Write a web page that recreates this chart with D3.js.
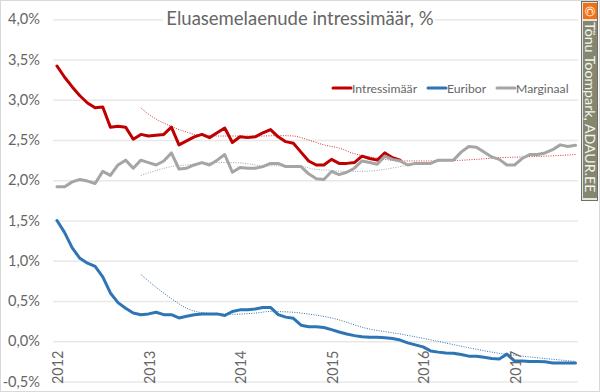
<!DOCTYPE html>
<html>
<head>
<meta charset="utf-8">
<script src="https://cdn.jsdelivr.net/npm/d3@7"></script>
<style>
  html, body { margin: 0; padding: 0; background: #fff; }
  svg { display: block; font-family: Lato, "Open Sans", sans-serif; }
</style>
</head>
<body>
<div id="chart"></div>
<script>
// monthly values, index 0 = jan 2012
var intress = [3.42,3.28,3.16,3.05,2.96,2.90,2.91,2.66,2.67,2.66,2.51,2.57,2.55,2.56,2.57,2.66,2.44,2.49,2.54,2.57,2.53,2.59,2.65,2.47,2.54,2.53,2.54,2.59,2.63,2.54,2.48,2.46,2.35,2.24,2.19,2.19,2.26,2.21,2.21,2.22,2.30,2.27,2.25,2.34,2.28,2.25];
var euribor = [1.50,1.35,1.16,1.03,0.97,0.93,0.80,0.60,0.48,0.41,0.35,0.33,0.34,0.36,0.33,0.33,0.29,0.31,0.33,0.34,0.34,0.34,0.32,0.37,0.39,0.39,0.40,0.42,0.42,0.33,0.30,0.285,0.20,0.18,0.18,0.17,0.145,0.115,0.09,0.07,0.055,0.05,0.05,0.045,0.035,0.015,-0.02,-0.045,-0.07,-0.12,-0.135,-0.145,-0.15,-0.165,-0.185,-0.185,-0.20,-0.215,-0.22,-0.16,-0.245,-0.245,-0.25,-0.25,-0.255,-0.27,-0.27,-0.27,-0.27];
var marginaal = [1.92,1.92,1.98,2.01,1.99,1.96,2.11,2.06,2.19,2.25,2.15,2.25,2.22,2.19,2.24,2.34,2.14,2.15,2.19,2.22,2.19,2.25,2.32,2.10,2.16,2.15,2.15,2.17,2.21,2.21,2.17,2.17,2.17,2.08,2.02,2.01,2.11,2.07,2.10,2.15,2.24,2.22,2.20,2.30,2.26,2.24,2.19,2.21,2.21,2.21,2.25,2.25,2.25,2.35,2.42,2.41,2.35,2.29,2.26,2.19,2.19,2.27,2.32,2.32,2.34,2.38,2.44,2.42,2.435];

// dotted trend lines, read at these months
var trendIntressM = [11,12,13,14,15,16,17,18,19,21,24,27,29,31,33,35,37,39,41,43,45,47,49,52,55,58,61,64,68];
var trendIntress = [2.90,2.82,2.76,2.71,2.67,2.63,2.60,2.57,2.565,2.55,2.55,2.55,2.555,2.55,2.50,2.44,2.40,2.33,2.29,2.26,2.24,2.24,2.24,2.245,2.26,2.28,2.29,2.30,2.32];
var trendEuriborM = [11,13,15,17,19,21,23,26,28,31,32,36.2,40.6,45,49.4,53.7,58,62.5,68];
var trendEuribor = [0.83,0.67,0.53,0.41,0.355,0.34,0.335,0.35,0.37,0.36,0.35,0.285,0.16,0.09,0.01,-0.075,-0.15,-0.20,-0.25];
var trendMargM = [11,13,15,17,19,21,23,25,27,29,31.9,33.6,35.8,38,41,43.2,45,46.7];
var trendMarg = [2.06,2.12,2.17,2.19,2.21,2.22,2.22,2.205,2.18,2.18,2.175,2.14,2.125,2.11,2.115,2.14,2.17,2.2];

var yearMonths = [0,12,24,36,48,60];
var yearLabels = ["2012","2013","2014","2015","2016","2017"];
var yTicks = [-0.5,0,0.5,1,1.5,2,2.5,3,3.5,4];
var legendNames = ["Intressimäär","Euribor","Marginaal"];
var colors = ["#c00000","#2e75b6","#a5a5a5"];

var w = 600, h = 392;
var svg = d3.select("#chart").append("svg").attr("width", w).attr("height", h);

// outer frame of the picture
svg.append("rect").attr("x",0.5).attr("y",0.5).attr("width",w-1).attr("height",h-1)
  .attr("fill","#fff").attr("stroke","#d9d9d9");

var x = d3.scaleLinear().domain([0,68]).range([57,575.5]);
var y = d3.scaleLinear().domain([-0.5,4]).range([381.5,19.3]);

// y axis + grid
var yAxis = d3.axisLeft(y).tickValues(yTicks).tickSize(525).tickPadding(13)
  .tickFormat(function(d){ return d3.format(".1f")(d).replace(".",",").replace("−","-") + "%"; });
var gy = svg.append("g").attr("transform","translate(578,0)").call(yAxis);
gy.select(".domain").remove();
gy.selectAll("line").attr("stroke","#e8e8e8").attr("stroke-width",1.5);
gy.selectAll("text").attr("fill","#666").style("font-size","14.6px").style("font-family","Lato");

var line = d3.line().x(function(d){ return x(d[0]); }).y(function(d){ return y(d[1]); });
var trendLine = d3.line().curve(d3.curveMonotoneX).x(function(d){ return x(d[0]); }).y(function(d){ return y(d[1]); });

function drawTrend(months, vals, col){
  svg.append("path").datum(d3.zip(months, vals)).attr("fill","none")
    .attr("stroke",col).attr("stroke-width",1).attr("stroke-dasharray","1 1.4").attr("d",trendLine);
}
function drawLine(vals, col){
  svg.append("path").datum(vals.map(function(v,i){ return [i,v]; })).attr("fill","none")
    .attr("stroke",col).attr("stroke-width",3).attr("stroke-linejoin","round").attr("stroke-linecap","round").attr("d",line);
}

drawTrend(trendMargM, trendMarg, colors[2]);
drawTrend(trendIntressM, trendIntress, "#d8343a");
drawTrend(trendEuriborM, trendEuribor, colors[1]);
drawLine(intress, colors[0]);
drawLine(euribor, colors[1]);
drawLine(marginaal, colors[2]);

// year labels, rotated
svg.append("g").selectAll("text").data(yearLabels).enter().append("text")
  .attr("transform",function(d,i){ return "translate(" + (x(yearMonths[i])+6) + ",384) rotate(-90)"; })
  .attr("fill","#666").style("font-size","14.4px").text(function(d){ return d; });

// title with white box that breaks the top gridline
svg.append("rect").attr("x",163).attr("y",8).attr("width",272).attr("height",24).attr("fill","#fff");
svg.append("text").attr("x",300).attr("y",25).attr("text-anchor","middle")
  .attr("fill","#666").style("font-size","18.5px").text("Eluasemelaenude intressimäär, %");

// legend
var legendX = [333,428,497];
var lg = svg.append("g").selectAll("g").data(legendNames).enter().append("g")
  .attr("transform",function(d,i){ return "translate(" + legendX[i] + ",88)"; });
lg.append("line").attr("x1",0).attr("x2",18).attr("stroke",function(d,i){ return colors[i]; })
  .attr("stroke-width",3).attr("stroke-linecap","round");
lg.append("text").attr("x",19).attr("y",4.5).attr("fill","#666").style("font-size","12.2px")
  .text(function(d){ return d; });

// copyright tag on the right edge
svg.append("rect").attr("x",581.5).attr("y",1.5).attr("width",16).attr("height",199)
  .attr("fill","#e6e6e0").attr("stroke","#6e6e6e");
svg.append("rect").attr("x",583).attr("y",3).attr("width",14).attr("height",16).attr("fill","#f26f12");
svg.append("rect").attr("x",583).attr("y",21).attr("width",14).attr("height",177).attr("fill","#85866f");
svg.append("text").attr("transform","translate(590,11.5) rotate(90)").attr("text-anchor","middle")
  .attr("dy","0.35em").attr("fill","#fff").style("font-size","13px").text("©");
svg.append("text").attr("transform","translate(590,22) rotate(90)").attr("dy","0.35em")
  .attr("fill","#f4f4ee").style("font-size","14.2px").text("Tõnu Toompark, ADAUR.EE");
</script>
</body>
</html>
